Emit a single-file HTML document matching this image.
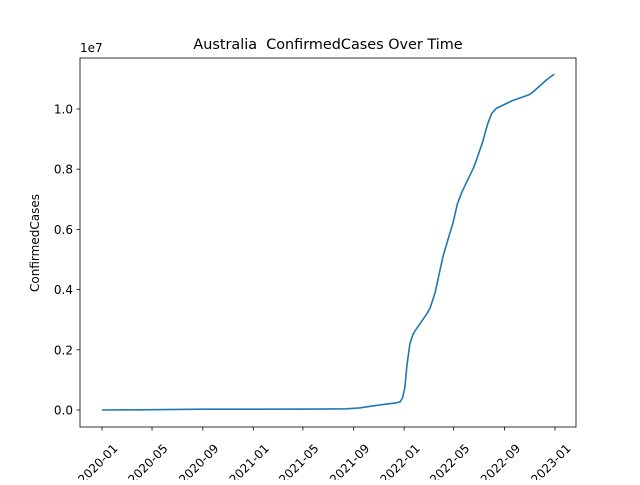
<!DOCTYPE html>
<html><head><meta charset="utf-8"><style>
body{margin:0;background:#fff}
svg{font-family:"DejaVu Sans","Liberation Sans",sans-serif}
</style></head><body>
<svg id="c" width="640" height="480" viewBox="0 0 640 480">
<rect width="640" height="480" fill="#fff"/>
<text x="328" y="49" font-size="14.4" text-anchor="middle" style="white-space:pre" xml:space="preserve">Australia  ConfirmedCases Over Time</text>
<text x="0" y="0" font-size="12" text-anchor="middle" transform="translate(39,243) rotate(-90)">ConfirmedCases</text>
<text x="80" y="52" font-size="12">1e7</text>
<g id="ticks"></g>
<path id="line" fill="none" stroke="#1f77b4" stroke-width="1.6" stroke-linejoin="round"/>
<rect x="80" y="58" width="496" height="369" fill="none" stroke="#000" stroke-width="0.8"/>
</svg>
<script>
const dates=["2020-01-01","2020-04-01","2020-09-01","2021-06-01","2021-08-15","2021-09-15","2021-10-15","2021-11-15","2021-12-10","2021-12-22","2021-12-28","2022-01-03","2022-01-08","2022-01-15","2022-01-22","2022-01-27","2022-02-10","2022-02-25","2022-03-05","2022-03-17","2022-04-05","2022-04-18","2022-04-29","2022-05-10","2022-05-21","2022-06-04","2022-06-18","2022-06-26","2022-07-10","2022-07-22","2022-08-01","2022-08-12","2022-08-27","2022-09-20","2022-10-15","2022-10-31","2022-11-10","2022-11-24","2022-12-10","2022-12-30"];
const values=[0,0.006,0.026,0.03,0.04,0.07,0.13,0.19,0.23,0.27,0.4,0.75,1.5,2.2,2.5,2.62,2.9,3.2,3.4,3.9,5.1,5.7,6.2,6.85,7.25,7.65,8.05,8.35,8.9,9.5,9.85,10.02,10.12,10.28,10.4,10.48,10.58,10.75,10.95,11.16];
const xTicks=["2020-01","2020-05","2020-09","2021-01","2021-05","2021-09","2022-01","2022-05","2022-09","2023-01"];
const yTicks=[0,0.2,0.4,0.6,0.8,1.0];
const NS="http://www.w3.org/2000/svg";
const t0=Date.UTC(2020,0,1);
function xs(s){const p=s.split("-");const d=Date.UTC(+p[0],+p[1]-1,p[2]?+p[2]:1);return 102+(d-t0)/86400000*0.4133;}
function ys(v){return 410-v*30.1;}
const g=document.getElementById("ticks");
xTicks.forEach(t=>{const x=xs(t);
 const l=document.createElementNS(NS,"line");l.setAttribute("x1",x);l.setAttribute("x2",x);l.setAttribute("y1",427);l.setAttribute("y2",430.5);l.setAttribute("stroke","#000");l.setAttribute("stroke-width","0.8");
 
 
 g.appendChild(l);
 const tx=document.createElementNS(NS,"text");tx.setAttribute("font-size","12");tx.setAttribute("text-anchor","middle");tx.setAttribute("dominant-baseline","central");
 tx.setAttribute("transform","translate("+(x-4)+",464) rotate(-45)");tx.textContent=t;
 
 
 g.appendChild(tx);});
yTicks.forEach(v=>{const y=ys(v*10);
 const l=document.createElementNS(NS,"line");l.setAttribute("x1",76.5);l.setAttribute("x2",80);l.setAttribute("y1",y);l.setAttribute("y2",y);l.setAttribute("stroke","#000");l.setAttribute("stroke-width","0.8");
 
 
 g.appendChild(l);
 const tx=document.createElementNS(NS,"text");tx.setAttribute("font-size","12");tx.setAttribute("text-anchor","end");tx.setAttribute("x",73);tx.setAttribute("y",y+4.5);tx.textContent=v.toFixed(1);
 
 
 g.appendChild(tx);});
document.getElementById("line").setAttribute("d",dates.map((d,i)=>(i?"L":"M")+xs(d).toFixed(1)+","+ys(values[i]).toFixed(1)).join(""));
</script>
</body></html>
